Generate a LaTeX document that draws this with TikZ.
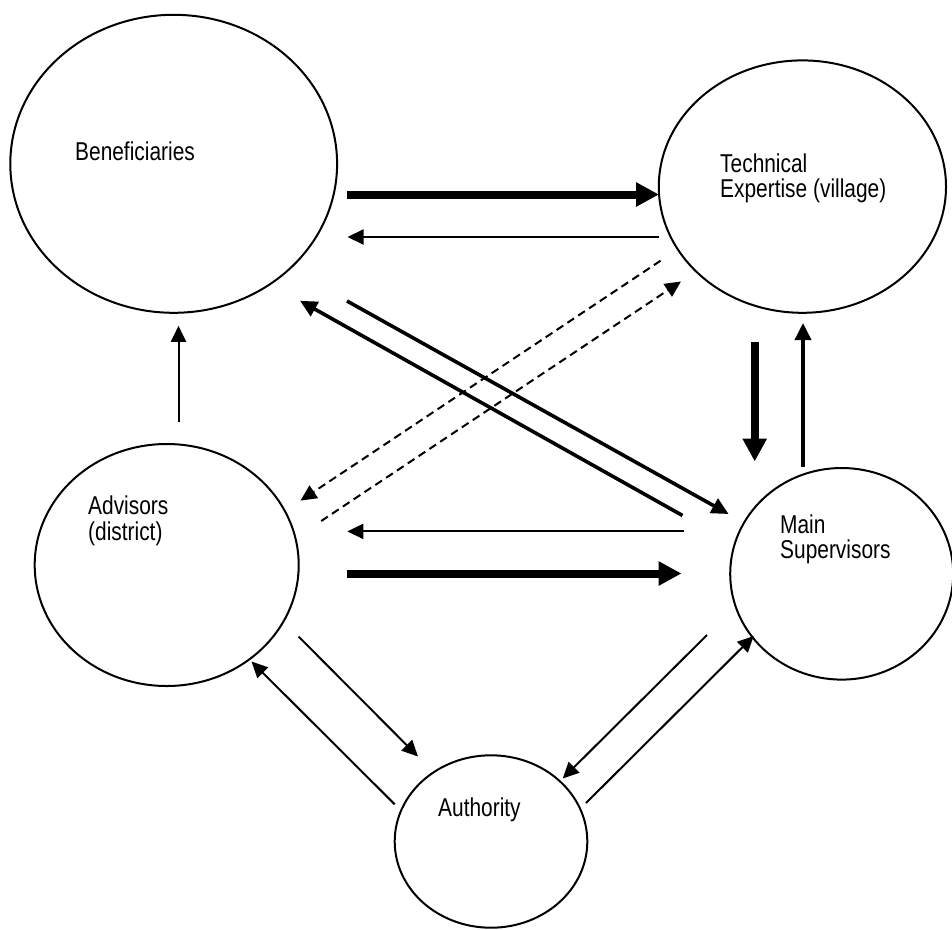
\documentclass[tikz,border=0pt]{standalone}
\usepackage{fontspec}
\setmainfont{Liberation Sans}[FakeStretch=0.81]
\usetikzlibrary{arrows.meta,shapes.geometric}

\tikzset{
  party/.style={draw, ellipse, line width=2pt, inner sep=0pt},
  lbl/.style={anchor=base west, inner sep=0pt, font=\fontsize{25.8}{25.7}\selectfont},
  heavyflow/.style={line width=8pt, -{Triangle[length=23pt,width=23pt]}},
  midflow/.style={line width=3.6pt, -{Triangle[length=17pt,width=16pt]}},
  thinflow/.style={line width=2pt, -{Triangle[length=16pt,width=15pt]}},
  dashflow/.style={thinflow, dash pattern=on 8pt off 5pt},
}

\begin{document}
\begin{tikzpicture}[x=1pt,y=-1pt]
\useasboundingbox (0,0) rectangle (952,929);

% the five parties
\node[party, minimum width=326.8pt, minimum height=298pt] (ben) at (173.7,163.8) {};
\node[party, minimum width=287.2pt, minimum height=252.4pt] (tech) at (802.4,186.6) {};
\node[party, minimum width=264pt, minimum height=242pt] (adv) at (166.7,565) {};
\node[party, minimum width=223pt, minimum height=211.6pt] (sup) at (841.7,573.8) {};
\node[party, minimum width=192.6pt, minimum height=172.4pt] (auth) at (491,841.5) {};

% labels
\node[lbl] (benT) at (75,160.7) {Beneficiaries};
\node[lbl] (techT1) at (720,172) {Technical};
\node[lbl] (techT2) at (720,197.7) {Expertise (village)};
\node[lbl] (advT1) at (88,514.3) {Advisors};
\node[lbl] (advT2) at (88,540) {(district)};
\node[lbl] (supT1) at (780,533) {Main};
\node[lbl] (supT2) at (780,558.7) {Supervisors};
\node[lbl] (authT) at (438,816.7) {Authority};

% end points of the flows
\coordinate (bt1) at (347,194.5);   \coordinate (bt2) at (659,194.5);
\coordinate (tb1) at (659,237);     \coordinate (tb2) at (347.5,237);
\coordinate (bs1) at (347,301);     \coordinate (bs2) at (728.6,514);
\coordinate (sb1) at (682.5,515.5); \coordinate (sb2) at (300,300.8);
\coordinate (ta1) at (660.6,260.7); \coordinate (ta2) at (300.5,500.6);
\coordinate (at1) at (321.2,521);   \coordinate (at2) at (681,281.5);
\coordinate (sa1) at (684,531.4);   \coordinate (sa2) at (347.3,531.4);
\coordinate (as1) at (347.3,573.5); \coordinate (as2) at (681.5,573.5);
\coordinate (ts1) at (754.7,342.4); \coordinate (ts2) at (754.7,461.5);
\coordinate (st1) at (803,467);     \coordinate (st2) at (803,323);
\coordinate (ab1) at (178.5,421.8); \coordinate (ab2) at (178.5,325.8);
\coordinate (au1) at (298.5,636.5); \coordinate (au2) at (418,756.5);
\coordinate (ua1) at (394.7,804.3); \coordinate (ua2) at (251.5,661.5);
\coordinate (sx1) at (707,635);     \coordinate (sx2) at (562.7,778.5);
\coordinate (xs1) at (586,803);     \coordinate (xs2) at (753.7,636);

% flows
\draw[heavyflow] (bt1) -- (bt2);
\draw[thinflow] (tb1) -- (tb2);
\draw[midflow] (bs1) -- (bs2);
\draw[midflow] (sb1) -- (sb2);
\draw[dashflow] (ta1) -- (ta2);
\draw[dashflow] (at1) -- (at2);
\draw[thinflow] (sa1) -- (sa2);
\draw[heavyflow] (as1) -- (as2);
\draw[heavyflow] (ts1) -- (ts2);
\draw[midflow] (st1) -- (st2);
\draw[thinflow] (ab1) -- (ab2);
\draw[thinflow] (au1) -- (au2);
\draw[thinflow] (ua1) -- (ua2);
\draw[thinflow] (sx1) -- (sx2);
\draw[thinflow] (xs1) -- (xs2);
\end{tikzpicture}
\end{document}
